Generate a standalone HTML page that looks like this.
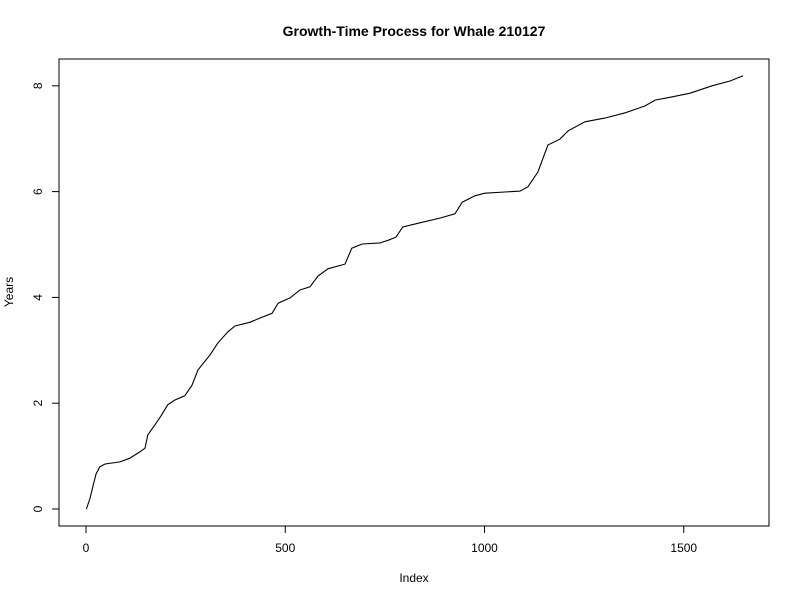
<!DOCTYPE html>
<html><head><meta charset="utf-8"><style>
body{margin:0;background:#fff}
svg{display:block;font-family:"Liberation Sans",Arial,sans-serif}
</style></head><body>
<svg id="chart" width="800" height="600">
<rect width="800" height="600" fill="#fff"/>
<text x="414" y="36" text-anchor="middle" font-size="14" font-weight="bold">Growth-Time Process for Whale 210127</text>
<rect x="59" y="59" width="710" height="467" fill="none" stroke="#000"/>
<text x="414" y="582" text-anchor="middle" font-size="12">Index</text>
<text transform="translate(13,292) rotate(-90)" text-anchor="middle" font-size="12">Years</text>
<g id="xaxis"></g>
<g id="yaxis"></g>
<path id="line" fill="none" stroke="#000" stroke-width="1.1"/>
</svg>
<script>
const indexVals=[1,10,18,25,35,48,85,110,135,148,155,173,190,205,223,248,266,281,311,331,356,374,411,437,467,482,512,537,562,582,607,650,667,693,738,758,778,795,838,888,926,944,976,1001,1089,1109,1134,1159,1189,1210,1252,1302,1353,1403,1428,1470,1516,1571,1616,1649];
const yearVals=[0,0.2,0.45,0.66,0.80,0.85,0.89,0.96,1.08,1.15,1.4,1.59,1.78,1.97,2.06,2.14,2.34,2.63,2.91,3.14,3.35,3.46,3.53,3.61,3.70,3.89,3.99,4.14,4.20,4.40,4.54,4.63,4.93,5.01,5.03,5.08,5.14,5.33,5.41,5.50,5.58,5.80,5.92,5.97,6.01,6.09,6.37,6.88,6.99,7.15,7.32,7.39,7.49,7.62,7.73,7.79,7.86,8.0,8.09,8.19];
const xTicks=[0,500,1000,1500];
const yTicks=[0,2,4,6,8];
const NS="http://www.w3.org/2000/svg";
const sx=v=>86+v*0.3985;
const sy=v=>509-v*52.9;
const xa=document.getElementById('xaxis'),ya=document.getElementById('yaxis');
function mk(tag,attrs,parent){const e=document.createElementNS(NS,tag);for(const k in attrs)e.setAttribute(k,attrs[k]);parent.appendChild(e);return e;}
let l=mk('line',{x1:sx(0),x2:sx(1500),y1:526,y2:526,stroke:'#000'},xa);


xTicks.forEach(t=>{
  const tk=mk('line',{x1:sx(t),x2:sx(t),y1:526,y2:533,stroke:'#000'},xa);
  
  
  const tx=mk('text',{x:sx(t),y:552,'text-anchor':'middle','font-size':12},xa);
  tx.textContent=t;
  
  
});
l=mk('line',{x1:59,x2:59,y1:sy(0),y2:sy(8),stroke:'#000'},ya);


yTicks.forEach(t=>{
  const tk=mk('line',{x1:52,x2:59,y1:sy(t),y2:sy(t),stroke:'#000'},ya);
  
  
  const tx=mk('text',{transform:`translate(42,${sy(t)}) rotate(-90)`,'text-anchor':'middle','font-size':12},ya);
  tx.textContent=t;
  
  
});
document.getElementById('line').setAttribute('d',indexVals.map((v,i)=>(i?'L':'M')+sx(v).toFixed(1)+','+sy(yearVals[i]).toFixed(1)).join(''));
</script>
</body></html>
